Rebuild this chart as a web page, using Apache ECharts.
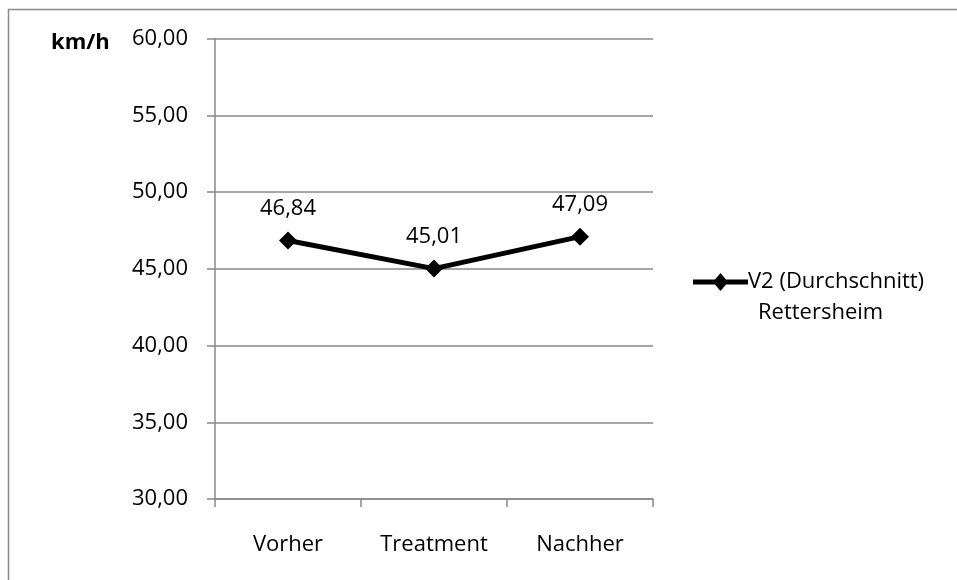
<!DOCTYPE html>
<html>
<head>
<meta charset="utf-8">
<script src="https://cdn.jsdelivr.net/npm/echarts@6/dist/echarts.min.js"></script>
<style>
html,body{margin:0;padding:0;background:#fff;}
#c{width:957px;height:580px;}
</style>
</head>
<body>
<div id="c"></div>
<script>
const categories = ['Vorher', 'Treatment', 'Nachher'];
const values = [46.84, 45.01, 47.09];
const seriesName = 'V2 (Durchschnitt)';
const seriesNameLine2 = 'Rettersheim';
const yUnit = 'km/h';

const FONT = '"Open Sans", "Noto Sans", sans-serif';
const FS = 22;
const fmt = v => v.toFixed(2).replace('.', ',');

const chart = echarts.init(document.getElementById('c'));
chart.setOption({
  animation: false,
  backgroundColor: '#fff',
  textStyle: { fontFamily: FONT },
  graphic: [{
    type: 'rect',
    shape: { x: 8.5, y: 9.5, width: 1200, height: 1200 },
    style: { fill: 'none', stroke: '#8a8a8a', lineWidth: 1.5 },
    silent: true
  }, {
    type: 'text',
    left: 51, top: 32,
    style: { text: yUnit, font: 'bold 22px ' + FONT, fill: '#000' }
  }, {
    type: 'text',
    left: 758, top: 302,
    style: { text: seriesNameLine2, font: FS + 'px ' + FONT, fill: '#000' }
  }],
  grid: { left: 215, top: 38.5, right: 304, bottom: 81, containLabel: false },
  legend: {
    left: 688, top: 262.5,
    orient: 'vertical',
    itemWidth: 55, itemHeight: 18,
    itemGap: 0,
    textStyle: { fontSize: FS, color: '#000', fontFamily: FONT, lineHeight: 29, padding: [0, 0, 0, -5] },
    data: [{ name: seriesName, icon: 'path://M0,6.5 L22,6.5 L27.5,0 L33,6.5 L55,6.5 L55,11.5 L33,11.5 L27.5,18 L22,11.5 L0,11.5 Z' }]
  },
  xAxis: {
    type: 'category',
    data: categories,
    boundaryGap: true,
    axisLine: { lineStyle: { color: '#888', width: 1.5 } },
    axisTick: { show: true, length: 8, lineStyle: { color: '#888', width: 1.5 } },
    axisLabel: { fontSize: FS, color: '#000', margin: 35, fontFamily: FONT },
    splitLine: { show: false }
  },
  yAxis: {
    type: 'value',
    min: 30, max: 60, interval: 5,
    axisLine: { show: true, lineStyle: { color: '#888', width: 1.5 } },
    axisTick: { show: true, length: 8, lineStyle: { color: '#888', width: 1.5 } },
    axisLabel: { fontSize: FS, color: '#000', margin: 27, fontFamily: FONT, formatter: v => fmt(v) },
    splitLine: { show: true, lineStyle: { color: '#888', width: 1.5 } }
  },
  series: [{
    name: seriesName,
    type: 'line',
    data: values,
    symbol: 'diamond',
    symbolSize: 18,
    itemStyle: { color: '#000' },
    lineStyle: { color: '#000', width: 5 },
    label: {
      show: true, position: 'top', distance: 12,
      fontSize: FS, color: '#000', fontFamily: FONT,
      formatter: p => fmt(p.value)
    }
  }]
});
</script>
</body>
</html>
